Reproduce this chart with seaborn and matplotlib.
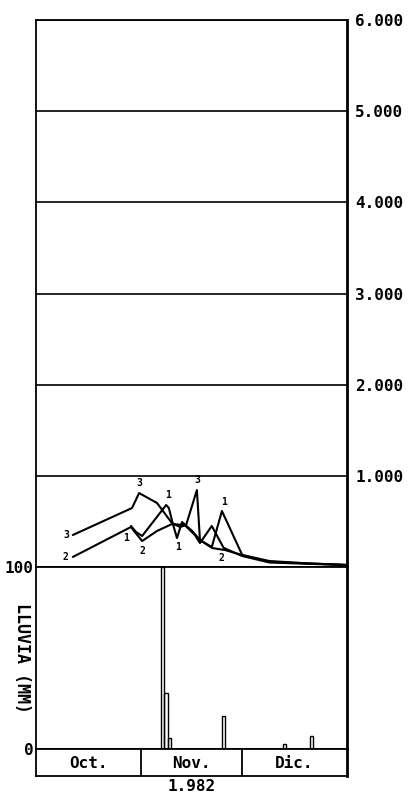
import numpy as np
import pandas as pd
import matplotlib
matplotlib.use("Agg")
import matplotlib.pyplot as plt
import seaborn as sns

# Days counted from 1 October 1982 (0 = Oct 1, 92 = Dec 31)
days_1 = [28.1, 29.6, 31.4, 38.5, 39.3, 40.5, 41.7, 43.2, 46.2, 48.5, 52.0, 55.0, 61.0, 69.0, 80.0, 92.0]
flow_1 = [450, 384, 340, 680, 647, 471, 318, 493, 395, 296, 219, 614, 132, 66, 40, 22]

days_2 = [10.9, 28.1, 29.0, 31.4, 35.8, 40.2, 44.0, 47.0, 48.5, 52.0, 55.5, 61.0, 69.0, 80.0, 92.0]
flow_2 = [110, 439, 395, 285, 395, 471, 460, 351, 263, 450, 210, 120, 50, 35, 22]

days_3 = [10.9, 28.4, 30.5, 35.8, 40.2, 42.6, 44.4, 47.6, 48.5, 52.1, 55.9, 60.9, 69.2, 78.0, 92.0]
flow_3 = [351, 647, 811, 702, 482, 439, 460, 844, 296, 208, 186, 132, 55, 44, 22]

# Daily rainfall (mm), day index of the bar
rain_days = [37, 38, 39, 55, 73, 81]
rain_mm = [100, 31, 6, 18, 3, 7]

flow_ticks = [1000, 2000, 3000, 4000, 5000, 6000]
flow_tick_labels = ["1.000", "2.000", "3.000", "4.000", "5.000", "6.000"]
months = ["Oct.", "Nov.", "Dic."]
month_starts = [0, 31, 61, 92]
year_label = "1.982"
rain_label = "LLUVIA (MM)"

sns.set_theme(style="white")
plt.rcParams["font.family"] = ["DejaVu Sans Mono", "DejaVu Sans"]
plt.rcParams["font.weight"] = "bold"
plt.rcParams["text.color"] = "black"
plt.rcParams["ytick.color"] = "black"
plt.rcParams["xtick.color"] = "black"

W, H = 416, 797
FS = 11.5
fig = plt.figure(figsize=(W / 100, H / 100), dpi=100)


def box(l, t, r, b):
    return [l / W, 1 - b / H, (r - l) / W, (b - t) / H]


ax_q = fig.add_axes(box(36, 20, 347, 567))
ax_p = fig.add_axes(box(36, 567, 347, 749))
ax_m = fig.add_axes(box(36, 749, 347, 776))

lw_frame = 1.3
for ax in (ax_q, ax_p, ax_m):
    for s in ax.spines.values():
        s.set_color("black")
        s.set_linewidth(lw_frame)
    ax.spines["right"].set_linewidth(2.0)

# ---- discharge hydrographs ----
flows = pd.concat([
    pd.DataFrame({"day": days_1, "flow": flow_1, "serie": "1"}),
    pd.DataFrame({"day": days_2, "flow": flow_2, "serie": "2"}),
    pd.DataFrame({"day": days_3, "flow": flow_3, "serie": "3"}),
], ignore_index=True)
sns.lineplot(data=flows, x="day", y="flow", hue="serie", units="serie",
             palette=["black"] * 3, estimator=None, sort=False,
             legend=False, linewidth=1.5, ax=ax_q)
ax_q.set_xlim(0, 92)
ax_q.set_ylim(0, 6000)
ax_q.set_xticks([])
ax_q.set_xlabel("")
ax_q.set_ylabel("")
ax_q.yaxis.tick_right()
ax_q.set_yticks(flow_ticks)
ax_q.set_yticklabels(flow_tick_labels, fontsize=FS, fontweight="bold", color="black")
ax_q.tick_params(axis="y", length=0, pad=6)
ax_q.yaxis.grid(True, color="black", linewidth=1.2)
ax_q.xaxis.grid(False)

# series numbers written beside the curves
series_pts = {"1": (days_1, flow_1), "2": (days_2, flow_2), "3": (days_3, flow_3)}
tags = [("3", 0, (-7, 0)), ("2", 0, (-7, 0)), ("1", 0, (-5, -12)),
        ("3", 2, (0, 10)), ("2", 3, (0, -10)), ("1", 3, (2, 10)),
        ("1", 6, (1, -9)), ("3", 7, (0, 10)), ("1", 11, (2, 9)),
        ("2", 10, (-2, -10))]
for name, i, off in tags:
    xs, ys = series_pts[name]
    ax_q.annotate(name, (xs[i], ys[i]), xytext=off, textcoords="offset pixels",
                  ha="center", va="center", fontsize=7, fontweight="bold",
                  color="black")

# ---- rainfall ----
rain = pd.DataFrame({"day": [d + 0.5 for d in rain_days], "mm": rain_mm})
sns.barplot(data=rain, x="day", y="mm", native_scale=True, width=1,
            fill=False, color="black", linewidth=1.0, errorbar=None, ax=ax_p)
ax_p.set_ylim(0, 100)
ax_p.set_xlim(0, 92)
ax_p.set_xticks([])
ax_p.set_xlabel("")
ax_p.set_ylabel("")
ax_p.set_yticks([0, 100])
ax_p.set_yticklabels(["0", "100"], fontsize=FS, fontweight="bold", color="black")
ax_p.tick_params(axis="y", length=0, pad=2)
ax_p.text(-0.045, 0.5, rain_label, transform=ax_p.transAxes, rotation=-90,
          ha="center", va="center", fontsize=FS + 0.5, fontweight="bold",
          color="black")

# ---- month strip ----
ax_m.set_xlim(0, 92)
ax_m.set_ylim(0, 1)
ax_m.set_xticks([])
ax_m.set_yticks([])
for x in month_starts[1:-1]:
    ax_m.axvline(x, color="black", linewidth=lw_frame)
for name, a, b in zip(months, month_starts[:-1], month_starts[1:]):
    ax_m.text((a + b) / 2, 0.45, name, ha="center", va="center",
              fontsize=FS, fontweight="bold", color="black")
ax_m.text((month_starts[1] + month_starts[2]) / 2, -0.4, year_label,
          ha="center", va="center", fontsize=FS, fontweight="bold", color="black")

fig.savefig("out.png", dpi=100)
